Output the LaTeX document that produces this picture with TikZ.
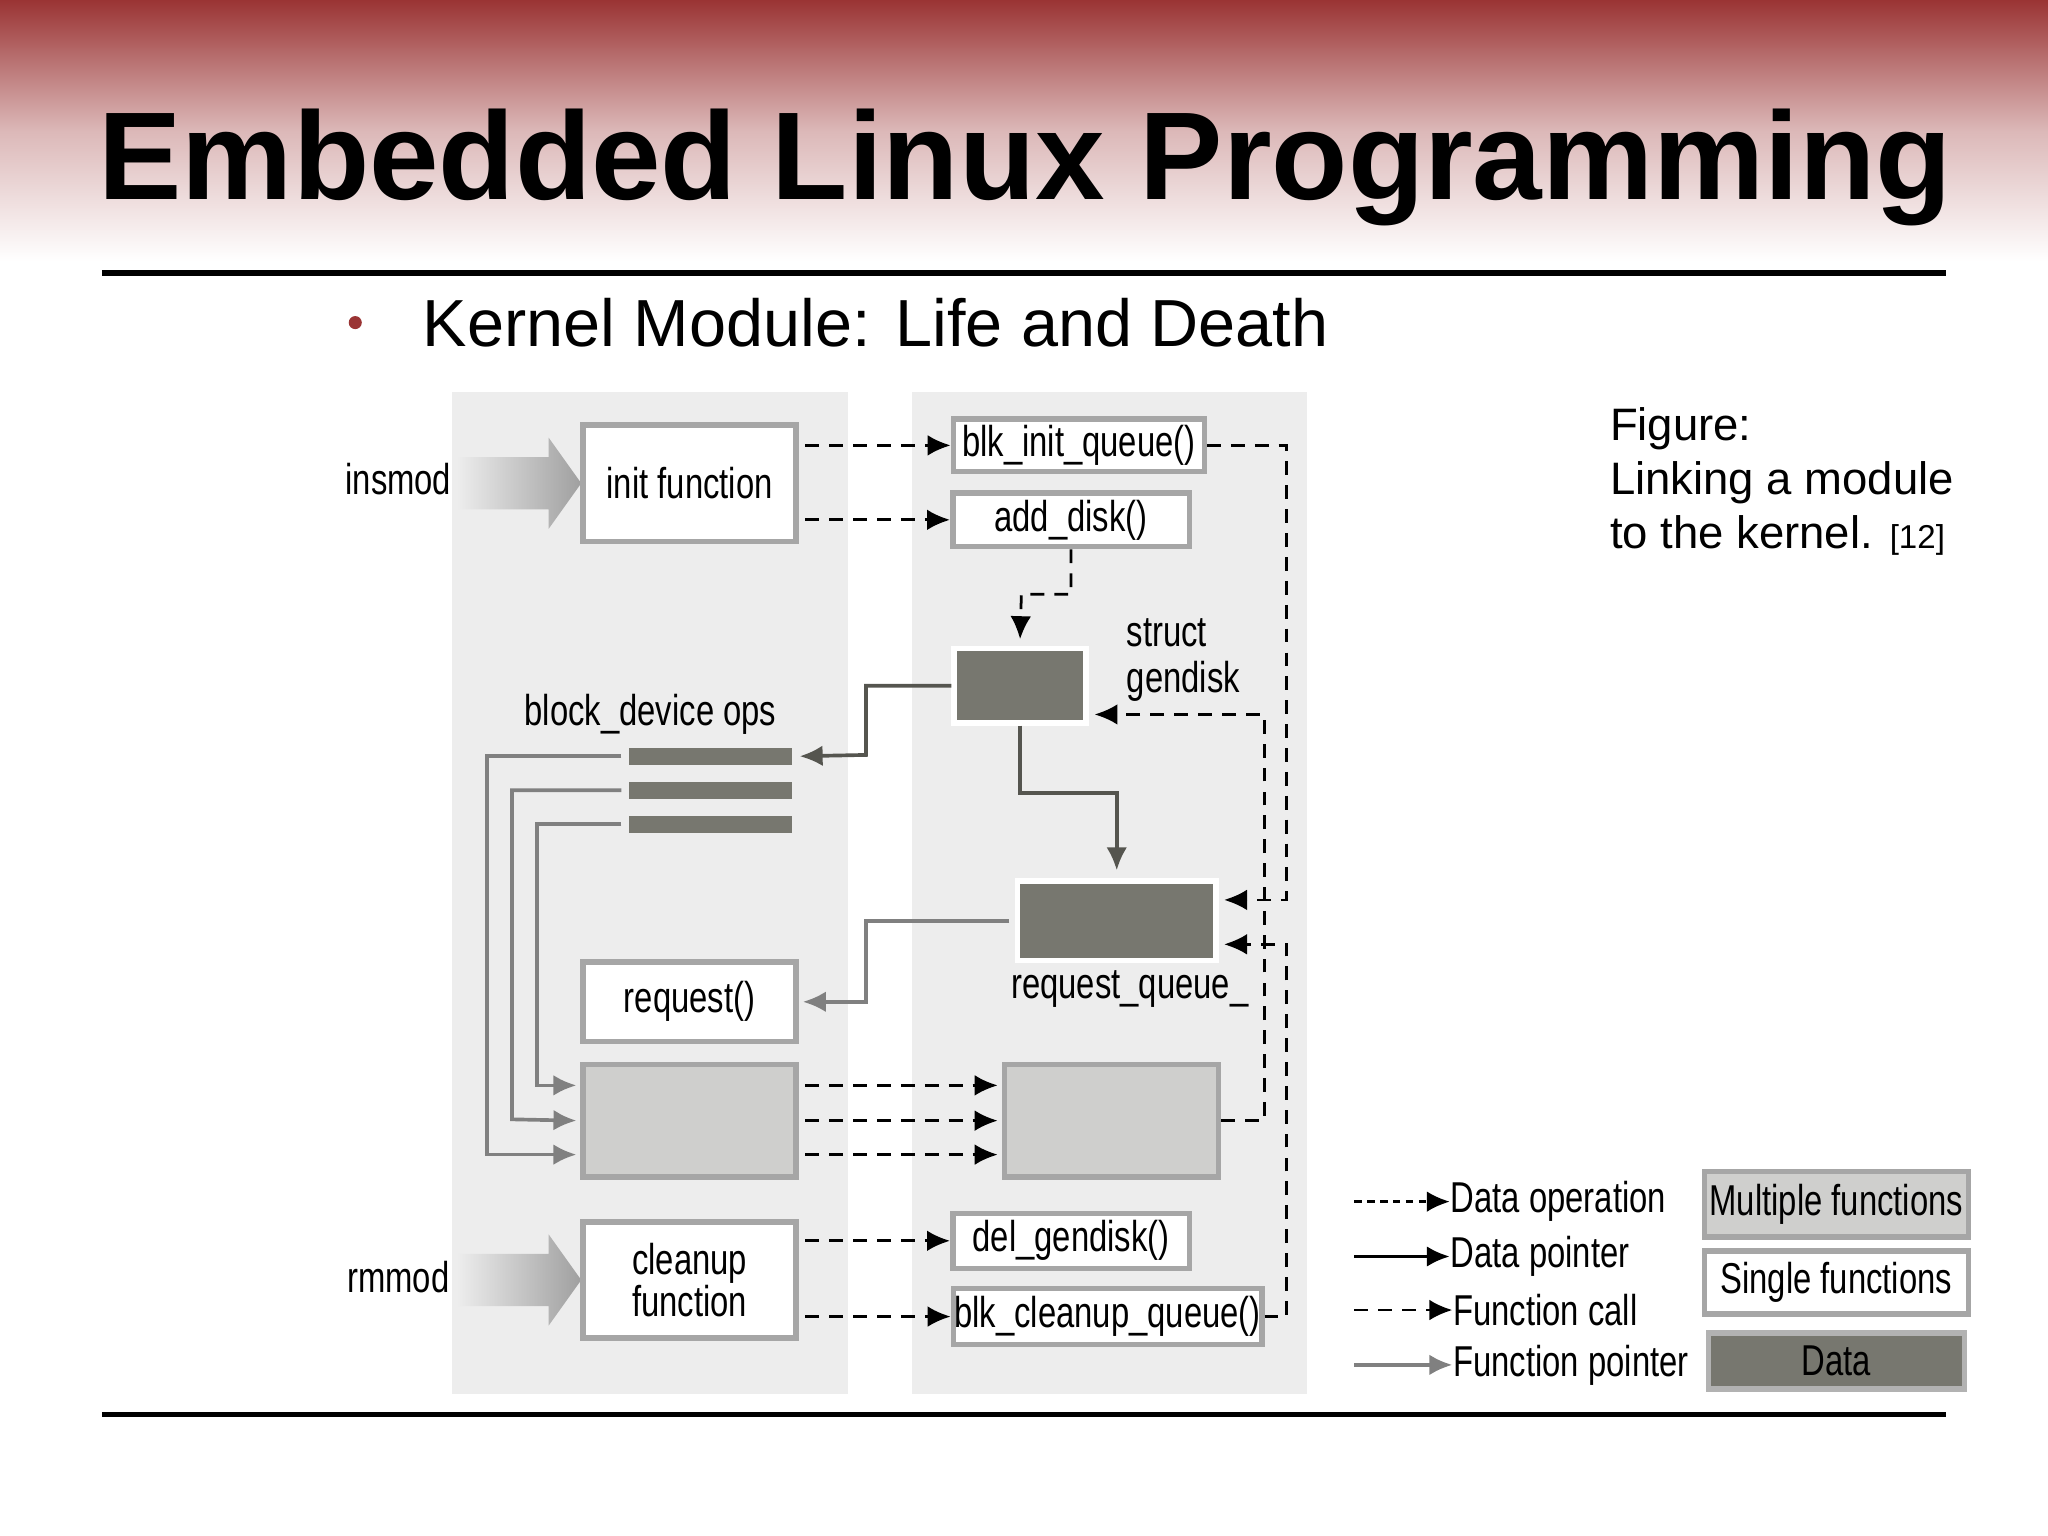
\documentclass[tikz,border=0pt]{standalone}
\usepackage{fontspec}
\setmainfont{Liberation Sans}
\newfontfamily\condfont{Liberation Sans}[FakeStretch=0.76]
\usetikzlibrary{arrows.meta,calc}
\definecolor{bandred}{HTML}{9A3434}
\definecolor{panelgray}{HTML}{EDEDED}
\definecolor{datagray}{HTML}{77776F}
\definecolor{multigray}{HTML}{CFCFCD}
\definecolor{linegray}{HTML}{55554F}
\tikzset{
  box/.style={draw=gray!70, line width=1.2pt, fill=white, inner sep=0pt, font=\condfont\fontsize{9.4}{10}\selectfont, align=center},
  databox/.style={draw=white, line width=1.2pt, fill=datagray, inner sep=0pt},
  multibox/.style={draw=gray!70, line width=1.2pt, fill=multigray, inner sep=0pt},
  bar/.style={fill=datagray, draw=none, minimum width=1.25cm, minimum height=0.13cm, inner sep=0pt},
  lbl/.style={font=\condfont\fontsize{9.4}{10}\selectfont, inner sep=0pt, align=left},
  call/.style={draw=black, line width=0.6pt, dash pattern=on 3pt off 2.2pt, -{Latex[length=5pt,width=4.5pt]}},
  dataop/.style={draw=black, line width=0.6pt, dash pattern=on 1.6pt off 1.2pt, -{Latex[length=5pt,width=4.5pt]}},
  ptr/.style={draw=linegray, line width=0.8pt, -{Latex[length=5pt,width=4.5pt]}},
  fptr/.style={draw=gray, line width=0.8pt, -{Latex[length=5pt,width=4.5pt]}},
}
\begin{document}
\begin{tikzpicture}[x=0.01cm, y=-0.01cm]
  \useasboundingbox (0,0) rectangle (1568,1176);
  % slide frame
  \shade[top color=bandred, bottom color=white, middle color=bandred!35] (0,0) rectangle (1568,200);
  \node[font=\bfseries\fontsize{27.2}{28}\selectfont, inner sep=0pt] (title) at (785,128) {Embedded Linux Programming};
  \draw[line width=1.2pt] (78,209) -- (1490,209);
  \draw[line width=1.2pt] (78,1083) -- (1490,1083);
  \fill[bandred] (272,247) circle (5);
  \node[anchor=west, font=\fontsize{14.5}{16}\selectfont, inner sep=0pt] (subtitle) at (323,247) {Kernel Module: Life and Death};
  \node[anchor=north west, font=\fontsize{9.9}{11.8}\selectfont, align=left, inner sep=0pt] (caption) at (1232,311)
    {Figure:\\Linking a module\\to the kernel. {\fontsize{7.2}{8}\selectfont[12]}};

  % panels
  \fill[panelgray] (346,300) rectangle (649,1067);
  \fill[panelgray] (698,300) rectangle (1001,1067);

  % module side
  \shade[left color=panelgray, right color=gray!75] (350,350) -- (420,350) -- (420,335) -- (445,370) -- (420,405) -- (420,390) -- (350,390) -- cycle;
  \shade[left color=panelgray, right color=gray!75] (350,960) -- (420,960) -- (420,945) -- (445,980) -- (420,1015) -- (420,1000) -- (350,1000) -- cycle;
  \node[lbl, anchor=center] (insmod) at (305,367) {insmod};
  \node[lbl, anchor=center] (rmmod) at (305,978) {rmmod};
  \node[box, minimum width=1.63cm, minimum height=0.89cm] (init) at (528,370) {init function};
  \node[box, minimum width=1.63cm, minimum height=0.89cm] (cleanup) at (528,980) {cleanup\\[-1pt]function};
  \node[box, minimum width=1.63cm, minimum height=0.61cm] (request) at (528,767) {request()};
  \node[multibox, minimum width=1.63cm, minimum height=0.86cm] (fops) at (528,858) {};
  \node[lbl, anchor=center] (bdolbl) at (498,547) {block\_device ops};
  \node[bar] (bar1) at (544,579) {};
  \node[bar] (bar2) at (544,605) {};
  \node[bar] (bar3) at (544,631) {};

  % kernel side
  \node[box, minimum width=1.92cm, minimum height=0.40cm] (blkinit) at (826,341) {blk\_init\_queue()};
  \node[box, minimum width=1.81cm, minimum height=0.41cm] (adddisk) at (820,398) {add\_disk()};
  \node[databox, minimum width=1.01cm, minimum height=0.57cm] (gendisk) at (781,525) {};
  \node[lbl, anchor=west] (gendisklbl) at (862,505) {struct\\gendisk};
  \node[databox, minimum width=1.52cm, minimum height=0.61cm] (rqueue) at (855,705) {};
  \node[lbl, anchor=center] (rqueuelbl) at (865,757) {request\_queue\_};
  \node[multibox, minimum width=1.64cm, minimum height=0.86cm] (kops) at (851,858) {};
  \node[box, minimum width=1.81cm, minimum height=0.42cm] (delgendisk) at (820,950) {del\_gendisk()};
  \node[box, minimum width=2.36cm, minimum height=0.43cm] (blkcleanup) at (848,1008) {blk\_cleanup\_queue()};

  % function calls
  \draw[call] (init.east |- blkinit) ++(5,0) -- (blkinit.west);
  \draw[call] (init.east |- adddisk) ++(5,0) -- (adddisk.west);
  \draw[call] (cleanup.east |- delgendisk) ++(5,0) -- (delgendisk.west);
  \draw[call] (cleanup.east |- blkcleanup) ++(5,0) -- (blkcleanup.west);
  \foreach \yy in {-27,0,26}
    \draw[call] ($(fops.east)+(5,\yy)$) -- ($(kops.west)+(-3,\yy)$);

  % data operations
  \draw[call] (adddisk.south) |- (782,455) -- ($(gendisk.north)+(0,-5)$);
  \draw[call] (blkinit.east) -| (985,689) -- ($(rqueue.east)+(4,-16)$);
  \draw[call] (blkcleanup.east) -| (985,723) -- ($(rqueue.east)+(4,18)$);
  \draw[call] (kops.east) -| (968,547) -- (838,547);

  % data pointers
  \draw[ptr] (gendisk.west) -| (663,578) -- ($(bar1.east)+(5,0)$);
  \draw[ptr] (gendisk.south) |- (855,607) -- ($(rqueue.north)+(0,-6)$);
  \draw[fptr] ($(rqueue.west)+(-4,0)$) -| (663,767) -- ($(request.east)+(3,0)$);
  \draw[fptr] ($(bar1.west)+(-5,0)$) -| (373,884) -- ($(fops.west)+(-3,26)$);
  \draw[fptr] ($(bar2.west)+(-5,0)$) -| (392,857) -- ($(fops.west)+(-3,0)$);
  \draw[fptr] ($(bar3.west)+(-5,0)$) -| (411,831) -- ($(fops.west)+(-3,-27)$);

  % legend
  \coordinate (lg1) at (1037,920);
  \coordinate (lg2) at (1037,962);
  \coordinate (lg3) at (1037,1003);
  \coordinate (lg4) at (1037,1045);
  \node[lbl, anchor=west] (lgop) at (1110,920) {Data operation};
  \node[lbl, anchor=west] (lgptr) at (1110,962) {Data pointer};
  \node[lbl, anchor=west] (lgcall) at (1112,1003) {Function call};
  \node[lbl, anchor=west] (lgfptr) at (1112,1045) {Function pointer};
  \draw[dataop] (lg1) -- (lgop.west);
  \draw[ptr, draw=black] (lg2) -- (lgptr.west);
  \draw[call] (lg3) -- (lgcall.west);
  \draw[fptr] (lg4) -- (lgfptr.west);
  \node[box, fill=multigray, minimum width=2.02cm, minimum height=0.50cm] (lgmulti) at (1406,922) {Multiple functions};
  \node[box, minimum width=2.02cm, minimum height=0.48cm] (lgsingle) at (1406,982) {Single functions};
  \node[databox, draw=gray!60, font=\condfont\fontsize{9.4}{10}\selectfont, minimum width=1.96cm, minimum height=0.43cm] (lgdata) at (1406,1042) {Data};
\end{tikzpicture}
\end{document}
